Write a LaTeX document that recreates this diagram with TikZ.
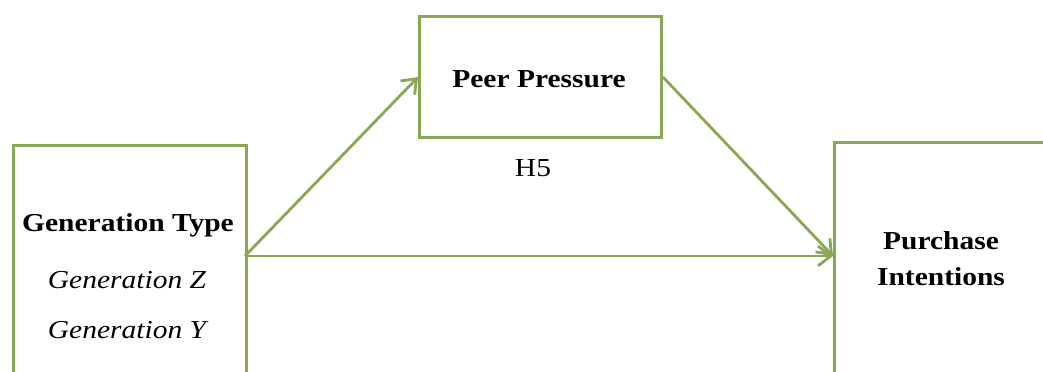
\documentclass[tikz,border=0pt]{standalone}
\usepackage{fontspec}
\setmainfont[FakeStretch=1.14]{Liberation Serif}
\usetikzlibrary{arrows.meta}
\definecolor{boxgreen}{RGB}{137,168,86}
\begin{document}
\begin{tikzpicture}[x=0.025cm,y=-0.025cm,font=\fontsize{18.4}{22}\selectfont,
  box/.style={draw=boxgreen,line width=2.1pt,fill=white,anchor=north west,inner sep=0pt},
  link/.style={->,draw=boxgreen,line width=2pt},
  >={Straight Barb[length=9pt,width=14pt]}]
\useasboundingbox (0,0) rectangle (1043,372);
\clip (0,0) rectangle (1043,372);
\node[box,minimum width=5.83cm,minimum height=6.8cm] (gen) at (12,144) {};
\node[box,minimum width=6.05cm,minimum height=3.03cm] (peer) at (418,15) {};
\node[box,minimum width=5.6cm,minimum height=6.8cm] (intent) at (833,141) {};
\coordinate (split) at (245,256);
\coordinate (intent in) at (833,256);
\node[anchor=base,font=\fontsize{18.4}{22}\selectfont\bfseries] (gentype) at (128,232) {Generation Type};
\node[anchor=base,font=\fontsize{18.4}{22}\selectfont\itshape] (genz) at (127,288) {Generation Z};
\node[anchor=base,font=\fontsize{18.4}{22}\selectfont\itshape] (geny) at (127,338) {Generation Y};
\node[anchor=base,font=\fontsize{18.4}{22}\selectfont\bfseries] (peertext) at (539,88) {Peer Pressure};
\node[anchor=base] (h5) at (533,177) {H5};
\node[anchor=base,font=\fontsize{18.4}{22}\selectfont\bfseries] (purchase) at (941,250) {Purchase};
\node[anchor=base,font=\fontsize{18.4}{22}\selectfont\bfseries] (intentions) at (941,286) {Intentions};
\draw[link] (split)--(peer.west);
\draw[link] (peer.east)--(intent in);
\draw[link] (split)--(intent in);
\end{tikzpicture}
\end{document}
